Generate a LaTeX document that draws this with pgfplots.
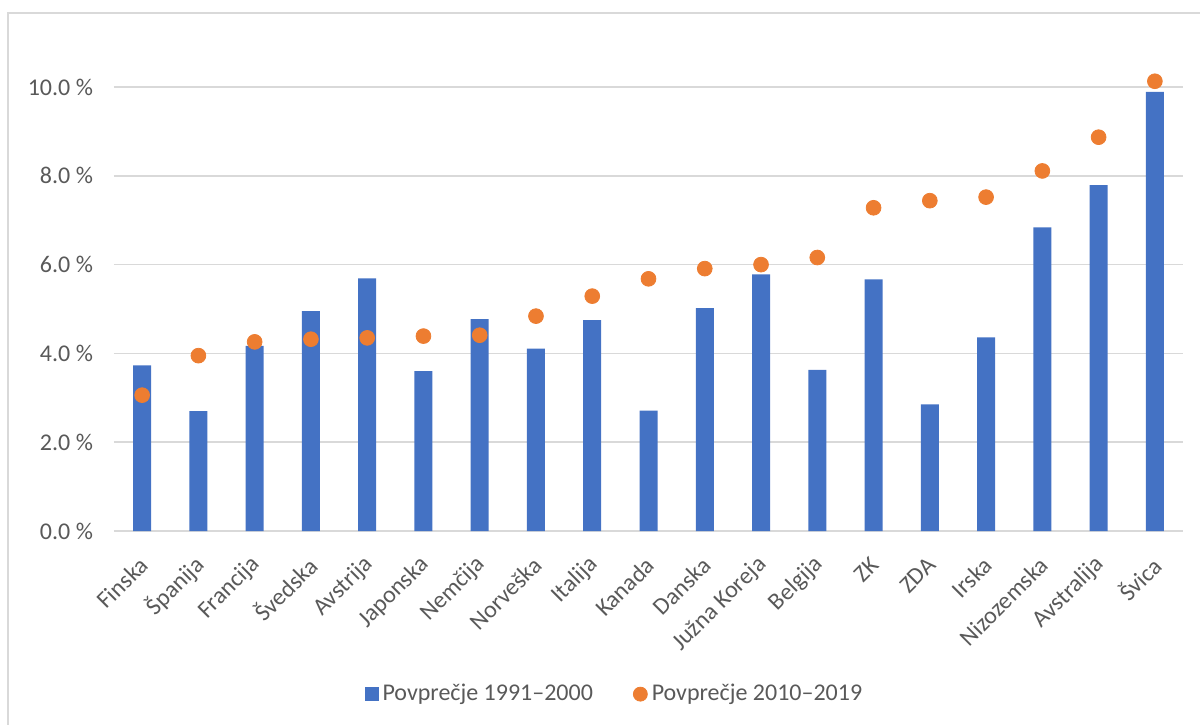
\documentclass[border=0pt]{standalone}
\usepackage{pgfplots}
\pgfplotsset{compat=1.18}
\usepackage{fontspec}
\setmainfont{Carlito}
\definecolor{barblue}{HTML}{4472C4}
\definecolor{dotorange}{HTML}{ED7D31}
\definecolor{gridgray}{HTML}{D9D9D9}
\definecolor{textgray}{HTML}{595959}
\begin{document}
\begin{tikzpicture}
\begin{axis}[
  at={(57pt,-265.5pt)}, anchor=south west,
  scale only axis, width=534.5pt, height=244.2pt,
  xmin=-0.5, xmax=18.5, ymin=0, ymax=11,
  xtick={0,...,18},
  xticklabels={Finska,Španija,Francija,Švedska,Avstrija,Japonska,Nemčija,Norveška,Italija,Kanada,Danska,Južna Koreja,Belgija,ZK,ZDA,Irska,Nizozemska,Avstralija,Švica},
  ytick={0,2,4,6,8,10},
  yticklabels={0.0 \%,2.0 \%,4.0 \%,6.0 \%,8.0 \%,10.0 \%},
  ymajorgrids, grid style={gridgray, line width=0.75pt},
  axis line style={draw=none}, major tick length=0pt,
  tick label style={font=\fontsize{12}{14}\selectfont, text=textgray},
  xticklabel style={xshift=1pt, yshift=-15pt, rotate=45, anchor=east, inner sep=0pt},
  yticklabel style={xshift=-7pt},
  legend columns=2,
  legend style={at={(0.469,-0.334)}, anchor=center, draw=none, fill=none,
    font=\fontsize{12}{14}\selectfont, text=textgray,
    /tikz/every even column/.append style={column sep=18pt}},
  legend cell align=left,
]
\addplot[ybar, bar width=9pt, fill=barblue, draw=none,
  legend image code/.code={\fill[barblue] (0pt,-3.5pt) rectangle (7pt,3.5pt);}]
  coordinates {(0,3.73) (1,2.70) (2,4.17) (3,4.95) (4,5.69) (5,3.60) (6,4.77) (7,4.11) (8,4.75) (9,2.71) (10,5.02) (11,5.78) (12,3.63) (13,5.67) (14,2.85) (15,4.36) (16,6.84) (17,7.79) (18,9.89)};
\addlegendentry{Povprečje 1991–2000}
\addplot[only marks, mark=*, mark size=3.7pt, color=dotorange,
  legend image code/.code={\fill[dotorange] (3.5pt,0pt) circle (3.5pt);}]
  coordinates {(0,3.06) (1,3.95) (2,4.26) (3,4.32) (4,4.35) (5,4.39) (6,4.41) (7,4.84) (8,5.29) (9,5.68) (10,5.91) (11,6.00) (12,6.16) (13,7.28) (14,7.44) (15,7.52) (16,8.11) (17,8.87) (18,10.13)};
\addlegendentry{Povprečje 2010–2019}
\end{axis}
\draw[gridgray, line width=1pt] (4pt,-370pt) -- (4pt,-6.5pt) -- (610pt,-6.5pt);
\pgfresetboundingbox
\useasboundingbox (0,0) rectangle (600pt,-362pt);
\end{tikzpicture}
\end{document}
